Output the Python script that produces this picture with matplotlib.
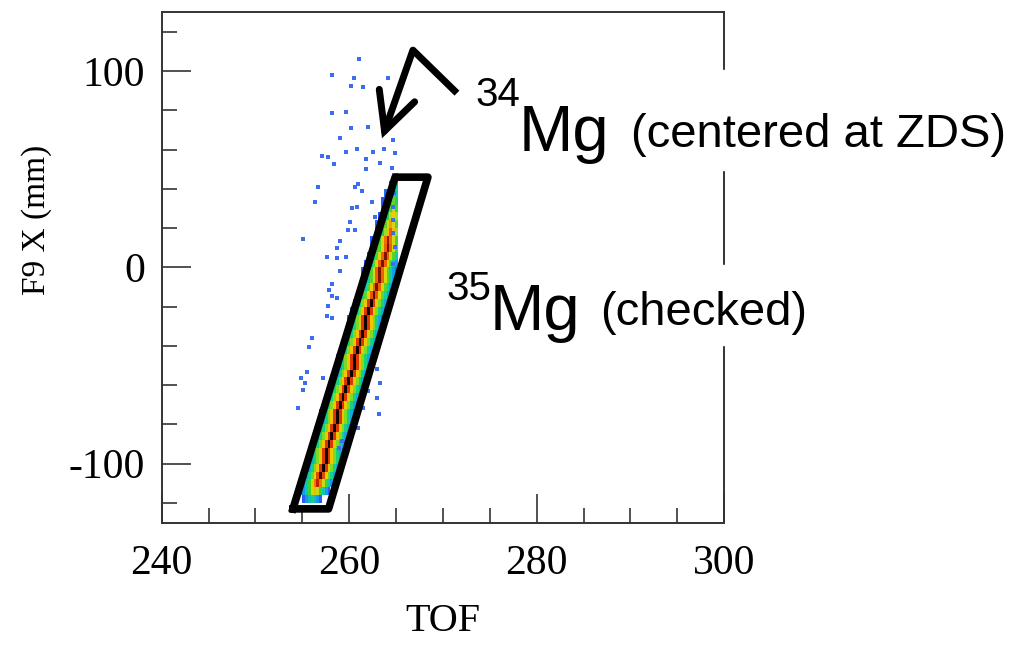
import numpy as np
import matplotlib
matplotlib.use("Agg")
import matplotlib.pyplot as plt
from matplotlib.colors import LinearSegmentedColormap, LogNorm
from matplotlib.patches import Rectangle

plt.rcParams["axes.unicode_minus"] = False

# ridge of the 35Mg band: row centre (F9 X, mm), TOF of the ridge, relative peak count
band_x = np.arange(-118, 47, 4)
band_tof = [256.0, 256.25, 256.5, 256.75, 257.0, 257.25, 257.5, 257.75, 258.0, 258.25,
            258.5, 258.75, 259.0, 259.25, 259.5, 259.75, 260.0, 260.25, 260.5, 260.75,
            261.0, 261.2, 261.5, 261.7, 262.0, 262.2, 262.5, 262.7, 263.0, 263.2,
            263.45, 263.7, 263.9, 264.1, 264.3, 264.45, 264.55, 264.65, 264.7, 264.75,
            264.8, 264.85]
band_peak = [0.05, 0.3, 0.7, 0.9, 1.0, 1.0, 1.0, 1.0, 1.0, 1.0,
             1.0, 1.0, 1.0, 1.0, 1.0, 1.0, 1.0, 1.0, 1.0, 1.0,
             1.0, 1.0, 1.0, 1.0, 1.0, 1.0, 0.85, 0.8, 0.8, 0.8,
             0.8, 0.8, 0.8, 0.75, 0.5, 0.35, 0.25, 0.15, 0.1, 0.06,
             0.03, 0.015]
# counts across the band (TOF bins left to right of the ridge)
profile = [0.008, 0.02, 0.05, 0.12, 0.28, 0.6, 1.0, 0.6, 0.28, 0.12, 0.05, 0.02, 0.008]
tof_cut = 265.2

# sparse single counts around the band
out_tof = [261.06, 258.17, 260.52, 264.15, 260.20, 261.48, 258.17, 259.67, 262.02, 260.20,
           259.03, 257.11, 257.75, 258.39, 259.67, 260.84, 261.80, 262.55, 263.72, 264.68,
           264.90, 263.29, 261.80, 260.95, 261.38, 260.63, 256.68, 256.36, 260.31, 260.84,
           262.44, 262.76, 260.10, 260.63, 259.88, 259.03, 255.08, 258.71, 257.64, 258.71,
           259.67, 259.03, 258.17, 257.86, 264.58, 264.68, 264.79, 264.68, 264.68, 264.68,
           264.90, 264.68, 258.17, 258.71, 257.75, 257.64, 258.17, 256.04, 255.72, 255.51,
           254.87, 255.29, 255.08, 257.22, 254.55, 262.98, 263.29, 262.98, 263.19, 261.48,
           262.02, 260.95, 259.24, 258.92, 264.04, 264.15]
out_x = [106.1, 98.0, 96.4, 96.4, 92.3, 91.8, 78.6, 79.1, 71.4, 70.9,
         65.8, 56.6, 56.1, 52.6, 58.7, 60.2, 55.1, 58.7, 60.2, 64.8,
         58.2, 53.1, 50.0, 42.3, 38.8, 40.8, 40.8, 33.2, 30.1, 30.6,
         33.2, 25.5, 23.0, 18.9, 18.9, 13.3, 14.3, 9.7, 5.1, 4.6,
         5.1, -2.0, -8.2, -11.7, 50.5, 44.4, 37.8, 30.6, 24.0, 17.3,
         10.2, 2.0, -14.3, -15.8, -19.4, -24.5, -26.0, -35.7, -40.3, -53.1,
         -56.1, -58.7, -62.2, -56.1, -71.4, -51.5, -58.7, -66.3, -74.5, -71.4,
         -62.8, -81.6, -88.3, -91.8, -24.5, -19.4]

# 35Mg gate
gate_tof = [254.0, 257.8, 268.4, 264.9, 254.0]
gate_x = [-123, -123, 46, 46, -123]

serif = "Liberation Serif"
sans = "Liberation Sans"

fig = plt.figure(figsize=(10.17, 6.46), dpi=100)
ax = fig.add_axes([0.159, 0.191, 0.553, 0.790])

cmap = LinearSegmentedColormap.from_list("root", [
    (0.0, "#3050ff"), (0.22, "#10a0f0"), (0.4, "#10d0a0"), (0.52, "#30d030"),
    (0.65, "#b0e020"), (0.75, "#f0d000"), (0.85, "#f07000"), (0.93, "#d02000"),
    (1.0, "#100000")])

tof_edges = np.arange(240, 300.001, 0.3)
x_edges = np.append(band_x - 2, band_x[-1] + 2)
H = np.zeros((len(band_x), len(tof_edges) - 1))
half = len(profile) // 2
for i, (c, p) in enumerate(zip(band_tof, band_peak)):
    j0 = int(round((c - 240) / 0.3))
    for k, v in enumerate(profile):
        j = j0 + k - half
        if tof_edges[j] < tof_cut:
            H[i, j] = p * v
H = np.ma.masked_less(H, 0.005)
ax.pcolormesh(tof_edges, x_edges, H, cmap=cmap, norm=LogNorm(0.005, 1.0), zorder=2)

ax.scatter(out_tof, out_x, s=10, marker="s", color="#3c6cf0", linewidths=0, zorder=2)

ax.plot(gate_tof, gate_x, color="black", lw=5.5, solid_joinstyle="round", zorder=4)

# arrow pointing to 34Mg
ax.plot([271.5, 266.8], [88.8, 110.7], color="black", lw=5, solid_capstyle="butt",
        clip_on=False, zorder=4)
ax.annotate("", xy=(263.5, 65.8), xytext=(266.8, 110.7),
            arrowprops=dict(arrowstyle="->, head_length=0.9, head_width=0.45",
                            lw=5, color="black", mutation_scale=30,
                            shrinkA=0, shrinkB=0, joinstyle="miter"),
            zorder=4, annotation_clip=False)

ax.set_xlim(240, 300)
ax.set_ylim(-130, 130)
ax.set_xticks([240, 260, 280, 300])
ax.set_xticks(np.arange(240, 301, 5), minor=True)
ax.set_yticks([-100, 0, 100])
ax.set_yticks(np.arange(-120, 121, 20), minor=True)
ax.tick_params(which="both", direction="in", top=False, right=False,
               color="#333333", width=1.2)
ax.tick_params(which="major", length=21)
ax.tick_params(which="minor", length=11)
ax.tick_params(axis="x", which="major", pad=16)
ax.tick_params(axis="y", which="major", pad=12)
for lab in ax.get_xticklabels() + ax.get_yticklabels():
    lab.set_fontfamily(serif)
    lab.set_fontsize(30)
for sp in ax.spines.values():
    sp.set_linewidth(1.4)
    sp.set_color("#333333")

ax.set_xlabel("TOF", fontfamily=serif, fontsize=29, labelpad=14)
ax.set_ylabel("F9 X (mm)", fontfamily=serif, fontsize=24)
ax.yaxis.set_label_coords(-0.195, 0.594)

W, Hpx = 1017.0, 646.0


def fx(px):
    return px / W


def fy(py):
    return 1 - py / Hpx


# white boxes behind the labels
fig.patches.append(Rectangle((fx(468), fy(170)), (1010 - 468) / W, 100 / Hpx,
                             transform=fig.transFigure, color="white", zorder=5))
fig.patches.append(Rectangle((fx(440), fy(345)), (812 - 440) / W, 80 / Hpx,
                             transform=fig.transFigure, color="white", zorder=5))

fig.text(fx(475), fy(106), "34", fontfamily=sans, fontsize=29, va="baseline", zorder=6)
fig.text(fx(519), fy(151), "Mg", fontfamily=sans, fontsize=47, va="baseline", zorder=6)
fig.text(fx(631), fy(147), "(centered at ZDS)", fontfamily=sans, fontsize=34,
         va="baseline", zorder=6)

fig.text(fx(446), fy(300), "35", fontfamily=sans, fontsize=29, va="baseline", zorder=6)
fig.text(fx(490), fy(330), "Mg", fontfamily=sans, fontsize=47, va="baseline", zorder=6)
fig.text(fx(600), fy(325), "(checked)", fontfamily=sans, fontsize=34,
         va="baseline", zorder=6)

fig.savefig("out.png", dpi=100)
